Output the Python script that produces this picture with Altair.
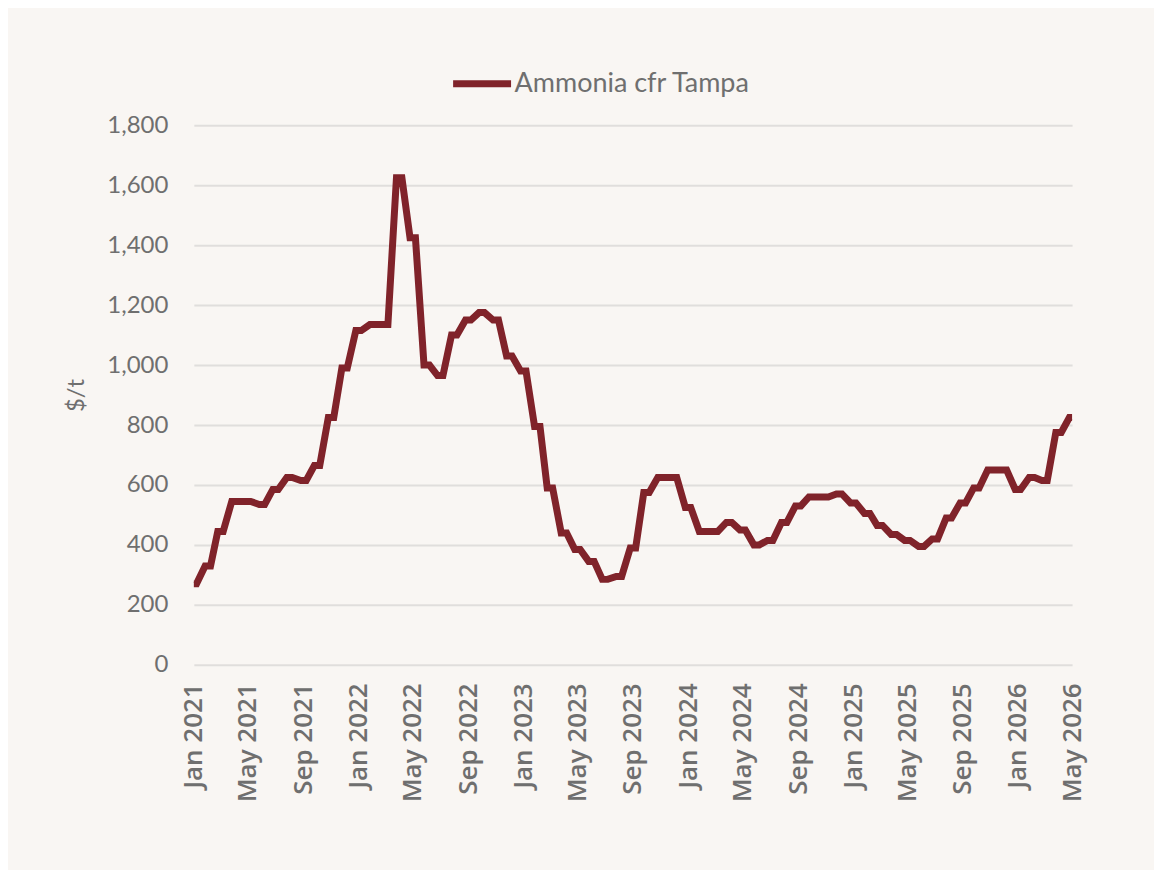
import altair as alt
import pandas as pd

# Monthly Ammonia cfr Tampa contract price, $/t (Jan 2021 -> May 2026)
month_starts = pd.date_range("2021-01-01", "2026-05-01", freq="MS")
prices = [
    270, 330, 445, 545, 545, 535, 585, 625, 615, 665, 825, 990,        # 2021
    1115, 1135, 1135, 1625, 1425, 1000, 965, 1100, 1150, 1175, 1150, 1030,  # 2022
    980, 795, 590, 440, 385, 345, 285, 295, 390, 575, 625, 625,        # 2023
    525, 445, 445, 475, 450, 400, 415, 475, 530, 560, 560, 570,        # 2024
    540, 505, 465, 435, 415, 395, 420, 490, 540, 590, 650, 650,        # 2025
    585, 625, 615, 775, 825,                                            # 2026
]
series_name = "Ammonia cfr Tampa"
y_ticks = [0, 200, 400, 600, 800, 1000, 1200, 1400, 1600, 1800]
x_tick_months = [(y, m) for y in range(2021, 2027) for m in (1, 5, 9) if (y, m) <= (2026, 5)]

# each monthly settlement is shown as a short flat step around the month start
half = pd.Timedelta(days=6)
start, end = month_starts[0], month_starts[-1]
rows = []
for m, v in zip(month_starts, prices):
    for d in (m - half, m + half):
        d = min(max(d, start), end)
        rows.append({"date": d.strftime("%Y-%m-%d"), "price": v, "series": series_name})
df = pd.DataFrame(rows)

GRAY = "#6f6f6f"
RED = "#80232a"

x_values = [alt.DateTime(year=y, month=m, date=1, utc=True) for (y, m) in x_tick_months]

chart = alt.Chart(df).mark_line(
    strokeWidth=7, strokeCap="butt", strokeJoin="miter"
).encode(
    x=alt.X(
        "date:T",
        title=None,
        scale=alt.Scale(
            type="utc",
            domain=[alt.DateTime(year=2021, month=1, date=1, utc=True),
                    alt.DateTime(year=2026, month=5, date=1, utc=True)],
        ),
        axis=alt.Axis(
            values=x_values,
            labelExpr="utcFormat(datum.value, '%b %Y')",
            labelAngle=-90, labelFont="Open Sans", labelFontWeight=600,
            labelFontSize=26, labelColor=GRAY, labelPadding=18,
            labelOverlap=False, labelFlush=False,
            domain=False, ticks=False, grid=False,
        ),
    ),
    y=alt.Y(
        "price:Q",
        title="$/t",
        scale=alt.Scale(domain=[0, 1800], nice=False),
        axis=alt.Axis(
            values=y_ticks,
            labelExpr="format(datum.value, ',')",
            labelFont="Lato", labelFontSize=24, labelColor=GRAY, labelPadding=26,
            titleFont="Lato", titleFontSize=24, titleFontWeight="normal",
            titleColor=GRAY, titlePadding=18,
            domain=False, ticks=False, grid=True,
            gridColor="#e0dedc", gridWidth=2,
        ),
    ),
    color=alt.Color(
        "series:N",
        scale=alt.Scale(domain=[series_name], range=[RED]),
        legend=alt.Legend(
            title=None, orient="none", legendX=256, legendY=-74,
            direction="horizontal", symbolType="stroke", symbolSize=3364,
            symbolStrokeWidth=7, labelFont="Lato", labelFontSize=27,
            labelColor=GRAY, labelOffset=0, labelLimit=500, padding=0,
        ),
    ),
).properties(
    width=879,
    height=540,
    background="#f9f6f3",
    padding={"left": 186, "top": 117, "right": 82, "bottom": 205},
    autosize=alt.AutoSizeParams(type="none"),
).configure_view(stroke=None)

chart.save("out.html", embed_options={"renderer": "svg", "actions": False})
